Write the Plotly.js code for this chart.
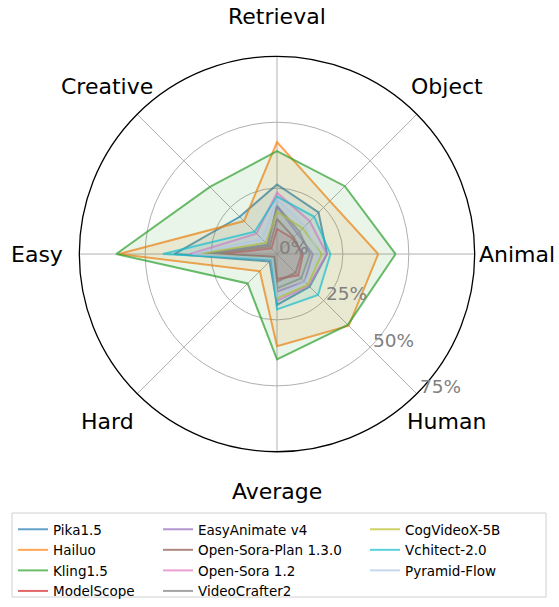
<!DOCTYPE html>
<html>
<head>
<meta charset="utf-8">
<script src="https://cdn.plot.ly/plotly-3.0.1.min.js"></script>
<style>html,body{margin:0;padding:0;background:#fff}#chart{width:559px;height:607px}</style>
</head>
<body>
<div id="chart"></div>
<script>
// Categories in counterclockwise order, starting at the right (0 deg)
const categories = ["Animal", "Object", "Retrieval", "Creative", "Easy", "Hard", "Average", "Human"];

const models = ["Pika1.5", "Hailuo", "Kling1.5", "ModelScope", "EasyAnimate v4", "Open-Sora-Plan 1.3.0",
                "Open-Sora 1.2", "VideoCrafter2", "CogVideoX-5B", "Vchitect-2.0", "Pyramid-Flow"];

// values (%) in the order of `categories`
const pika         = [19.0, 22.3, 26.4, 20.0, 39.0,  4.0, 19.3, 17.5];
const hailuo       = [38.4, 28.4, 42.5, 17.7, 60.0,  9.2, 35.0, 38.5];
const kling        = [45.0, 36.4, 39.0, 36.0, 61.0, 15.8, 40.0, 38.0];
const modelscope   = [ 9.9,  8.4,  9.5,  3.0, 21.4,  1.5,  9.5, 11.4];
const easyanimate  = [13.6, 11.0, 18.0,  5.0, 28.0,  2.0, 14.3, 14.8];
const opensoraplan = [ 9.3,  9.0, 13.3,  4.0, 25.0,  1.5, 10.5, 10.0];
const opensora     = [18.9, 17.6, 23.3, 11.0, 33.0,  3.0, 17.8, 17.0];
const videocrafter = [12.5, 12.0, 18.3,  5.0, 27.0,  2.0, 13.0, 13.0];
const cogvideox    = [17.0, 13.8, 16.0,  6.0, 30.0,  2.5, 16.8, 16.5];
const vchitect     = [20.3, 20.0, 21.8, 12.0, 43.3,  3.0, 21.0, 22.0];
const pyramid      = [16.0, 15.0, 20.8,  8.0, 32.0,  2.5, 16.0, 15.0];

const series = [pika, hailuo, kling, modelscope, easyanimate, opensoraplan,
                opensora, videocrafter, cogvideox, vchitect, pyramid];

const colors = ["31,119,180", "255,127,14", "44,160,44", "214,39,40", "148,103,189", "140,86,75",
                "227,119,194", "127,127,127", "188,189,34", "23,190,207", "174,199,232"];

const radialTicks = [0, 25, 50, 75];
const radialTickText = ["0%", "25%", "50%", "75%"];
const radialMax = 75;

const W = 559, H = 607;
const legendNames = ["legend", "legend2", "legend3"];

const traces = [];
series.forEach((vals, i) => {
  const r = vals.concat([vals[0]]);
  const th = categories.concat([categories[0]]);
  traces.push({
    type: "scatterpolar", r: r, theta: th, mode: "lines",
    name: models[i],
    legend: legendNames[Math.floor(i / 4)],
    line: {color: "rgba(" + colors[i] + ",0.7)", width: 2},
    hoverinfo: "skip"
  });
  traces.push({
    type: "scatterpolar", r: r, theta: th, mode: "lines",
    fill: "toself", fillcolor: "rgba(" + colors[i] + ",0.1)",
    line: {width: 0, color: "rgba(0,0,0,0)"},
    showlegend: false, hoverinfo: "skip"
  });
});

// polar geometry (pixels): centre and radius of the polar domain
const cx = 277, cy = 257, R = 200, labelR = 240;

// category labels around the circle
const annotations = categories.map((c, i) => {
  const a = i * Math.PI / 4;
  return {
    xref: "paper", yref: "paper",
    x: (cx + labelR * Math.cos(a)) / W,
    y: 1 - (cy - labelR * Math.sin(a)) / H,
    text: c, showarrow: false, xanchor: "center", yanchor: "middle",
    font: {size: 22, color: "#000"}
  };
});

// radial tick labels placed along the -45 degree direction
const rAng = -Math.PI / 4;
radialTicks.forEach((v, k) => {
  const rp = R * v / radialMax;
  annotations.push({
    xref: "paper", yref: "paper",
    x: (cx + rp * Math.cos(rAng)) / W,
    y: 1 - (cy - rp * Math.sin(rAng)) / H,
    text: radialTickText[k], showarrow: false, xanchor: "left", yanchor: "middle",
    xshift: 0, yshift: 7,
    font: {size: 18.5, color: "#808080"}
  });
});

const legendCommon = {
  orientation: "v", xanchor: "left", yanchor: "top",
  bgcolor: "rgba(0,0,0,0)", borderwidth: 0,
  font: {size: 13.5, color: "#000"}, tracegroupgap: 0
};
const legTop = 1 - 520 / H;

const layout = {
  width: W, height: H,
  margin: {l: 0, r: 0, t: 0, b: 0},
  paper_bgcolor: "#fff",
  font: {family: "DejaVu Sans, sans-serif", color: "#000"},
  showlegend: true,
  legend:  Object.assign({}, legendCommon, {x: 13 / W,  y: legTop}),
  legend2: Object.assign({}, legendCommon, {x: 158 / W, y: legTop}),
  legend3: Object.assign({}, legendCommon, {x: 365 / W, y: legTop}),
  polar: {
    domain: {x: [(cx - R) / W, (cx + R) / W], y: [1 - (cy + R) / H, 1 - (cy - R) / H]},
    bgcolor: "#fff",
    angularaxis: {
      type: "category", categoryarray: categories, rotation: 0, direction: "counterclockwise",
      showticklabels: false, ticks: "",
      showline: true, linecolor: "#000", linewidth: 1.3,
      showgrid: true, gridcolor: "#b0b0b0", gridwidth: 1
    },
    radialaxis: {
      range: [0, radialMax], tickvals: radialTicks, ticktext: radialTickText,
      angle: -45, showticklabels: false,
      showline: false, ticks: "",
      showgrid: true, gridcolor: "#b0b0b0", gridwidth: 1
    }
  },
  annotations: annotations,
  shapes: [{
    type: "rect", xref: "paper", yref: "paper",
    x0: 12 / W, x1: 546 / W, y0: 1 - 604 / H, y1: 1 - 519 / H,
    line: {color: "#d0d0d0", width: 1}, fillcolor: "rgba(255,255,255,0.8)", layer: "below"
  }]
};

Plotly.newPlot("chart", traces, layout, {displayModeBar: false, staticPlot: true});
</script>
</body>
</html>
